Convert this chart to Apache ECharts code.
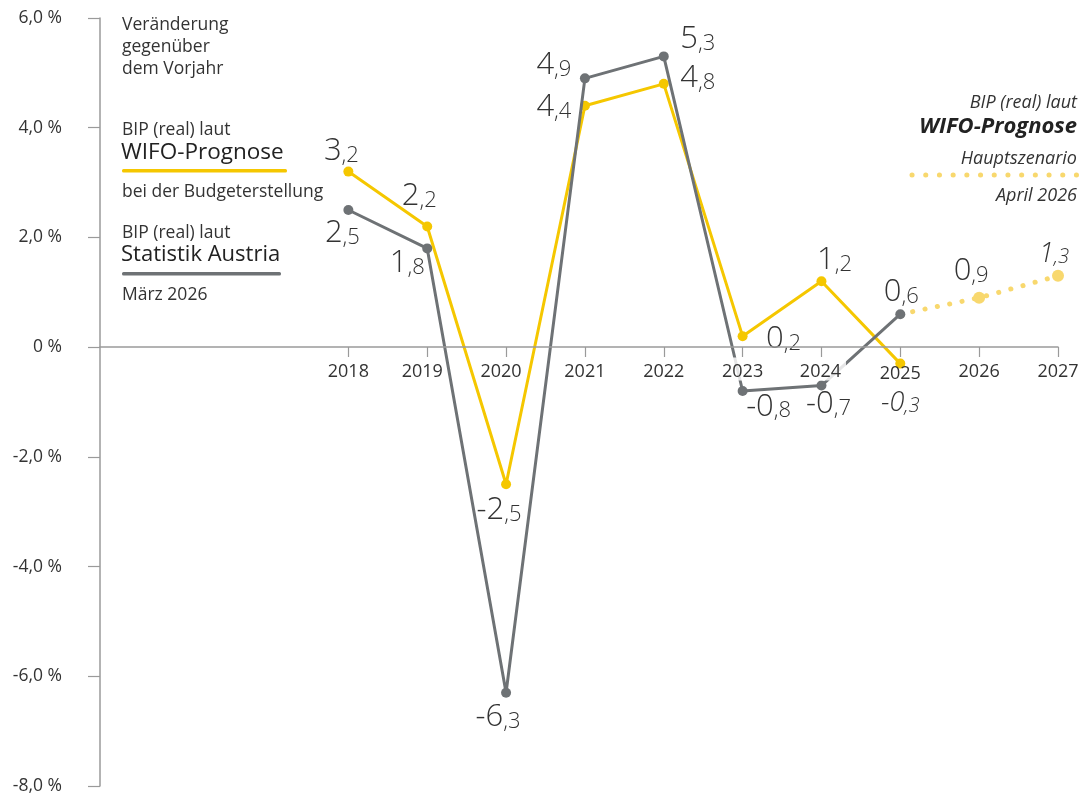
<!DOCTYPE html>
<html>
<head>
<meta charset="utf-8">
<script src="https://cdn.jsdelivr.net/npm/echarts@6/dist/echarts.min.js"></script>
<style>html,body{margin:0;padding:0;background:#fff}#c{width:1081px;height:796px}</style>
</head>
<body>
<div id="c"></div>
<script>
// ---- data ----
var years = [2018, 2019, 2020, 2021, 2022, 2023, 2024, 2025, 2026, 2027];
var wifoYears = [2018, 2019, 2020, 2021, 2022, 2023, 2024, 2025];
var wifoBudget = [3.2, 2.2, -2.5, 4.4, 4.8, 0.2, 1.2, -0.3];
var statYears = [2018, 2019, 2020, 2021, 2022, 2023, 2024, 2025];
var statistikAustria = [2.5, 1.8, -6.3, 4.9, 5.3, -0.8, -0.7, 0.6];
var forecastYears = [2025, 2026, 2027];
var wifoForecast = [0.6, 0.9, 1.3];

// ---- styling ----
var YEL = '#f5c700', GRY = '#6e7275', LYEL = '#f8d86e', TXT = '#333333';
var FONT = '"Open Sans", "Noto Sans", sans-serif';

function fmt(v, it) {
  var s = v.toFixed(1).replace('.', ',');
  var i = s.indexOf(',');
  var a = it ? 'ai' : 'a', b = it ? 'bi' : 'b';
  return '{' + a + '|' + s.slice(0, i) + '}{' + b + '|' + s.slice(i) + '}';
}
var K = 0.72;
var rich = {
  a: {fontSize: 31, lineHeight: 31 * K, color: TXT, fontFamily: FONT, fontWeight: 300, verticalAlign: 'bottom'},
  b: {fontSize: 22, lineHeight: 22 * K, color: TXT, fontFamily: FONT, fontWeight: 300, verticalAlign: 'bottom'},
  ai: {fontSize: 27, lineHeight: 27 * K, color: TXT, fontFamily: FONT, fontStyle: 'italic', fontWeight: 300, verticalAlign: 'bottom'},
  bi: {fontSize: 20, lineHeight: 20 * K, color: TXT, fontFamily: FONT, fontStyle: 'italic', fontWeight: 300, verticalAlign: 'bottom'}
};

var wifoOff = [[-7,-16],[-8,-26],[-7,30],[-31,6],[34,-1],[41,7],[13,-17],[0,43]];
var wifoIt = [false,false,false,false,false,false,false,true];
var statOff = [[-6,28],[-20,19],[-8,29],[-31,-9],[34,-13],[26,20],[7,23],[1,-18]];
var fcOff = [[0,0],[-8,-22],[-4,-18]];
var fcIt = [false,false,true];

function mk(xs, ys, off, it, hideFirst) {
  return ys.map(function (v, i) {
    var d = {value: [xs[i], v], label: {show: true, position: 'inside', offset: off[i],
      formatter: fmt(v, it ? it[i] : false), rich: rich}};
    if (hideFirst && i === 0) { d.symbolSize = 0; d.label = {show: false}; }
    return d;
  });
}

var tk = {fontSize: 18, lineHeight: 18, fontFamily: FONT, color: TXT};
function tok(extra) { var o = {}; for (var k in tk) o[k] = tk[k]; for (var k2 in extra) o[k2] = extra[k2]; return o; }
var halo = 'rgba(255,255,255,0.82)';

var XMIN = 2014.85, XMAX = 2027;
var chart = echarts.init(document.getElementById('c'));
chart.setOption({
  animation: false,
  grid: [
    {left: 100, right: 23, top: 18, bottom: 10, containLabel: false, outerBoundsMode: 'none'},
    {left: 100, right: 23, top: 18, height: 329, containLabel: false, outerBoundsMode: 'none'}
  ],
  xAxis: [
    {gridIndex: 0, type: 'value', min: XMIN, max: XMAX, show: false},
    {gridIndex: 1, type: 'value', min: XMIN, max: XMAX, position: 'bottom', z: 5,
     axisLine: {show: true, onZero: false, lineStyle: {color: '#9a9a9a', width: 1.5}},
     axisTick: {show: true, length: 10, customValues: years, lineStyle: {color: '#9a9a9a', width: 1.2}},
     axisLabel: {customValues: years, margin: 13, color: TXT, fontSize: 18, fontFamily: FONT,
       formatter: function (v) {
         var y = Math.round(v);
         if (y === 2019 || y === 2020) return '{s|' + y + '}';
         if (y === 2023) return '{h|' + y + '}';
         if (y === 2024) return '{k|' + y + '}';
         if (y === 2025) return '{l|' + y + '}';
         return '{n|' + y + '}';
       },
       rich: {
         n: tok({padding: [5, 0, 0, 0]}),
         s: tok({padding: [5, 10, 0, 0]}),
         h: tok({padding: [5, 2, 0, 2], backgroundColor: halo}),
         k: tok({padding: [5, 5, 0, 3], backgroundColor: halo}),
         l: tok({padding: [10, 0, 0, 0]})
       }},
     splitLine: {show: false}}
  ],
  yAxis: [
    {gridIndex: 0, type: 'value', min: -8, max: 6, interval: 2,
     axisLine: {show: true, lineStyle: {color: '#9a9a9a', width: 1.5}},
     axisTick: {show: true, length: 12, lineStyle: {color: '#9a9a9a', width: 1.2}},
     axisLabel: {margin: 38, color: TXT, fontSize: 17.5, fontFamily: FONT,
       formatter: function (v) { return v === 0 ? '0 %' : v.toFixed(1).replace('.', ',') + ' %'; }},
     splitLine: {show: false}},
    {gridIndex: 1, type: 'value', min: 0, max: 1, show: false}
  ],
  series: [
    {name: 'WIFO-Prognose bei der Budgeterstellung', type: 'line', z: 2, xAxisIndex: 0, yAxisIndex: 0,
     data: mk(wifoYears, wifoBudget, wifoOff, wifoIt),
     symbol: 'circle', symbolSize: 10, itemStyle: {color: YEL},
     lineStyle: {color: YEL, width: 3}},
    {name: 'WIFO-Prognose Hauptszenario', type: 'line', z: 2, xAxisIndex: 0, yAxisIndex: 0,
     data: mk(forecastYears, wifoForecast, fcOff, fcIt, true),
     symbol: 'circle', symbolSize: 12, itemStyle: {color: LYEL},
     lineStyle: {color: LYEL, width: 5, type: [0.1, 12.5], cap: 'round'}},
    {name: 'Statistik Austria', type: 'line', z: 3, xAxisIndex: 0, yAxisIndex: 0,
     data: mk(statYears, statistikAustria, statOff, null),
     symbol: 'circle', symbolSize: 10, itemStyle: {color: GRY},
     lineStyle: {color: GRY, width: 3}}
  ],
  graphic: [
    {type: 'text', left: 122, top: 14, style: {text: 'Veränderung\ngegenüber\ndem Vorjahr', font: '17.5px ' + FONT, fill: TXT, lineHeight: 22}},
    {type: 'text', left: 122, top: 121, style: {text: 'BIP (real) laut', font: '17.5px ' + FONT, fill: TXT}},
    {type: 'text', left: 121, top: 141, style: {text: 'WIFO-Prognose', font: '22.5px ' + FONT, fill: '#222'}},
    {type: 'rect', shape: {x: 122, y: 169, width: 165, height: 3.5, r: 1.5}, style: {fill: YEL}},
    {type: 'text', left: 122, top: 183, style: {text: 'bei der Budgeterstellung', font: '17.5px ' + FONT, fill: TXT}},
    {type: 'text', left: 122, top: 224, style: {text: 'BIP (real) laut', font: '17.5px ' + FONT, fill: TXT}},
    {type: 'text', left: 121, top: 244, style: {text: 'Statistik Austria', font: '22px ' + FONT, fill: '#222'}},
    {type: 'rect', shape: {x: 122, y: 272, width: 159, height: 3.5, r: 1.5}, style: {fill: GRY}},
    {type: 'text', left: 122, top: 286, style: {text: 'März 2026', font: '17.5px ' + FONT, fill: TXT}},

    {type: 'text', right: 4, top: 94, style: {text: 'BIP (real) laut', font: 'italic 18px ' + FONT, fill: TXT, align: 'right'}},
    {type: 'text', right: 4, top: 116, style: {text: 'WIFO-Prognose', font: 'italic bold 22px ' + FONT, fill: '#222', align: 'right'}},
    {type: 'text', right: 4, top: 150, style: {text: 'Hauptszenario', font: 'italic 18px ' + FONT, fill: TXT, align: 'right'}},
    {type: 'line', shape: {x1: 912, y1: 175, x2: 1078, y2: 175}, style: {stroke: LYEL, lineWidth: 5, lineDash: [0.1, 13.6], lineCap: 'round'}},
    {type: 'text', right: 4, top: 187, style: {text: 'April 2026', font: 'italic 18px ' + FONT, fill: TXT, align: 'right'}}
  ]
});
</script>
</body>
</html>
